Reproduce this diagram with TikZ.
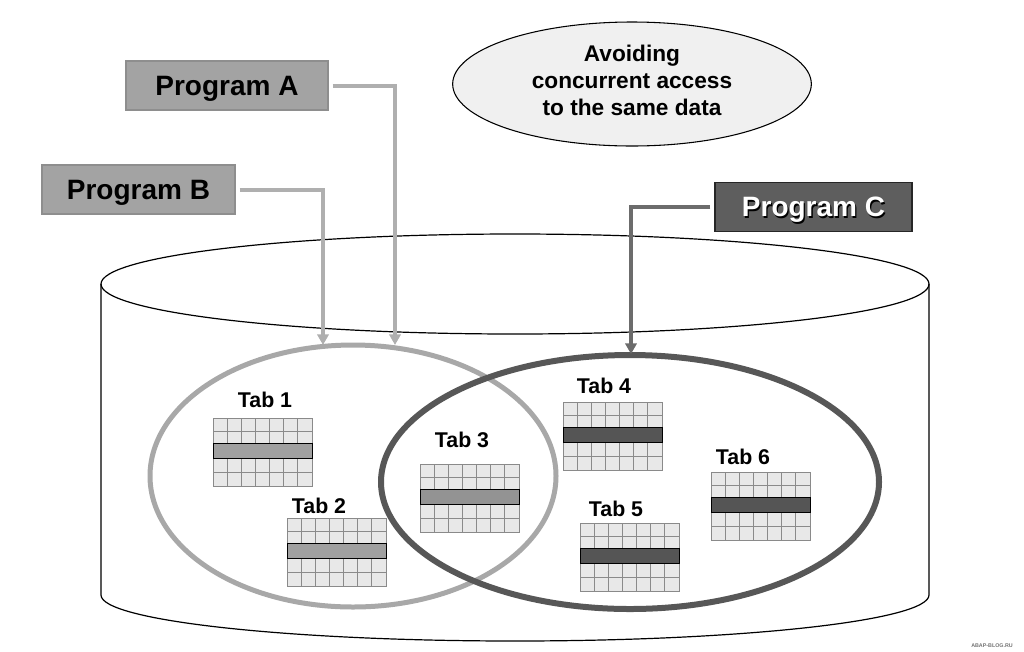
\documentclass[tikz,border=0pt]{standalone}
\usepackage{fontspec}
\setmainfont{Liberation Sans}
\usetikzlibrary{arrows.meta,shapes.geometric}
\definecolor{progAB}{HTML}{A3A3A3}
\definecolor{progABedge}{HTML}{8E8E8E}
\definecolor{progC}{HTML}{5E5E5E}
\definecolor{lineAB}{HTML}{AFAFAF}
\definecolor{lineC}{HTML}{6C6C6C}
\definecolor{ringAB}{HTML}{A8A8A8}
\definecolor{ringC}{HTML}{575757}
\definecolor{cellcol}{HTML}{E8E8E8}
\definecolor{gridcol}{HTML}{8A8A8A}
\definecolor{barlight}{HTML}{A0A0A0}
\definecolor{barmid}{HTML}{939393}
\definecolor{bardark}{HTML}{555555}
\definecolor{notefill}{HTML}{F0F0F0}
\newcommand\dbtable[4]{% #1 name, #2 left x, #3 top y, #4 bar colour
  \node[tabbody, anchor=north west] (#1) at (#2,#3) {};
  \foreach \i in {1,...,6} \draw[gridln] ({#2+\i*99/7},#3) -- ++(0,68);
  \foreach \j in {1,...,4} \draw[gridln] (#2,{#3+\j*68/5}) -- ++(99,0);
  \node[barbox, fill=#4, anchor=west] (#1bar) at (#2,{#3+33}) {};
}
\begin{document}
\begin{tikzpicture}[x=0.75pt,y=-0.75pt,
  progbox/.style={draw=progABedge, fill=progAB, line width=0.8pt,
    minimum height=36.75pt, inner sep=0pt, text depth=0pt,
    font=\fontsize{21}{24}\selectfont\bfseries},
  progdark/.style={progbox, draw=black!85, fill=progC, text=white},
  progshadow/.style={inner sep=0pt, text depth=0pt, text=black,
    font=\fontsize{21}{24}\selectfont\bfseries},
  conAB/.style={draw=lineAB, line width=3pt, shorten <=3pt,
    -{Triangle[length=8pt,width=8.5pt]}},
  conC/.style={conAB, draw=lineC},
  cyl/.style={draw=black, line width=0.9pt},
  ringab/.style={draw=ringAB, line width=3.75pt},
  ringc/.style={draw=ringC, line width=4.5pt},
  tabbody/.style={draw=gridcol, fill=cellcol, line width=0.9pt,
    minimum width=74.25pt, minimum height=51pt, inner sep=0pt},
  gridln/.style={draw=gridcol, line width=0.9pt},
  barbox/.style={draw=black, line width=0.8pt, minimum width=74.25pt,
    minimum height=11.25pt, inner sep=0pt},
  tablabel/.style={anchor=base, inner sep=0pt,
    font=\fontsize{16}{18}\selectfont\bfseries},
  note/.style={ellipse, draw=black, line width=0.8pt, fill=notefill,
    minimum width=269pt, minimum height=93pt, inner sep=0pt},
  notetext/.style={inner sep=0pt, align=center,
    font=\fontsize{17}{20.25}\selectfont\bfseries}
]
\useasboundingbox (0,0) rectangle (1024,651);

% database cylinder
\draw[cyl] (515,284) ellipse [x radius=310.5pt, y radius=37.5pt];
\draw[cyl] (101,284) -- (101,595)
  arc[start angle=180, end angle=360, x radius=310.5pt, y radius=34.5pt]
  -- (929,284);

% access rings
\draw[ringab] (353,476) ellipse [x radius=152.25pt, y radius=98.25pt];
\draw[ringc] (630,482) ellipse [x radius=186.75pt, y radius=95.25pt];

% tables
\dbtable{t1}{213}{418}{barlight}
\dbtable{t2}{287}{518}{barlight}
\dbtable{t3}{420}{464}{barmid}
\dbtable{t4}{563}{402}{bardark}
\dbtable{t5}{580}{523}{bardark}
\dbtable{t6}{711}{472}{bardark}
\node[tablabel] (l1) at (265,407) {Tab 1};
\node[tablabel] (l2) at (319,513) {Tab 2};
\node[tablabel] (l3) at (462,447) {Tab 3};
\node[tablabel] (l4) at (604,393) {Tab 4};
\node[tablabel] (l5) at (616,516) {Tab 5};
\node[tablabel] (l6) at (743,464) {Tab 6};

% note
\node[note] (note) at (632,84) {};
\node[notetext] (notetxt) at (632,80) {Avoiding\\concurrent access\\to the same data};

% programs
\node[progbox, minimum width=151.5pt] (pa) at (227,85.5) {Program A};
\node[progbox, minimum width=144.75pt] (pb) at (138.5,189.5) {Program B};
\node[progdark, minimum width=147.75pt] (pc) at (813.5,207) {\phantom{Program C}};
\node[progshadow] (pcs) at (814.8,208.3) {Program C};
\node[progshadow, text=white] (pct) at (813.5,207) {Program C};

% connector end points on the rings
\coordinate (ea) at (395,345);
\coordinate (eb) at (323,345);
\coordinate (ec) at (631,354);

\draw[conAB] (pa.east) -| (ea);
\draw[conAB] (pb.east) -| (eb);
\draw[conC] (pc.west) -| (ec);

% watermark
\node[inner sep=0pt, text=black!55, font=\fontsize{4}{4}\selectfont\bfseries] (wm) at (992,646) {ABAP-BLOG.RU};
\end{tikzpicture}
\end{document}
